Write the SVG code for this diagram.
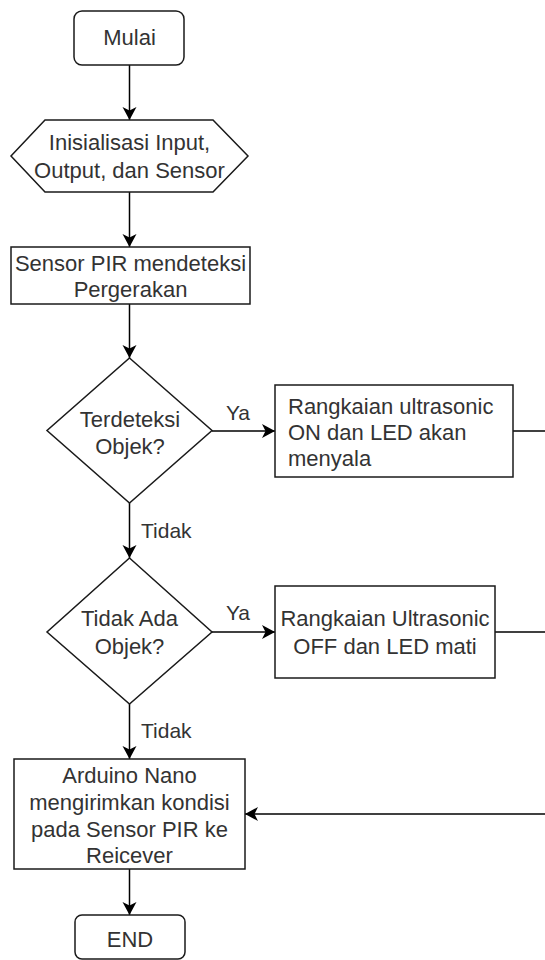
<svg xmlns="http://www.w3.org/2000/svg" width="545" height="960" viewBox="0 0 545 960">
<style>
.shape{fill:#ffffff;stroke:#1a1a1a;stroke-width:1.5}
.t{font-family:"Liberation Sans",Arial,sans-serif;font-size:22px;fill:#333333}
.c{text-anchor:middle}
.lbl{font-family:"Liberation Sans",Arial,sans-serif;font-size:21px;fill:#333333}
.edge{fill:none;stroke:#000000;stroke-width:1.5}
</style>
<defs>
<marker id="arr" markerUnits="userSpaceOnUse" markerWidth="16" markerHeight="16" viewBox="-14 -8 16 16" refX="0" refY="0" orient="auto">
<path d="M0,0 L-13,-7 L-9.5,0 L-13,7 Z" fill="#000000"/>
</marker>
</defs>
<rect width="545" height="960" fill="#ffffff"/>
<g id="connectors">
<line class="edge" x1="129.5" y1="65" x2="129.5" y2="120" marker-end="url(#arr)"/>
<line class="edge" x1="129.5" y1="192" x2="129.5" y2="247" marker-end="url(#arr)"/>
<line class="edge" x1="129.5" y1="304" x2="129.5" y2="358" marker-end="url(#arr)"/>
<line class="edge" x1="212" y1="431" x2="275" y2="431" marker-end="url(#arr)"/>
<line class="edge" x1="513" y1="431" x2="545" y2="431"/>
<line class="edge" x1="129.5" y1="503" x2="129.5" y2="558" marker-end="url(#arr)"/>
<line class="edge" x1="212" y1="632" x2="275" y2="632" marker-end="url(#arr)"/>
<line class="edge" x1="495" y1="632" x2="545" y2="632"/>
<line class="edge" x1="129.5" y1="704" x2="129.5" y2="759" marker-end="url(#arr)"/>
<line class="edge" x1="545" y1="814" x2="245" y2="814" marker-end="url(#arr)"/>
<line class="edge" x1="129.5" y1="869" x2="129.5" y2="915" marker-end="url(#arr)"/>
<text class="lbl c" x="238" y="420">Ya</text>
<text class="lbl" x="141" y="538">Tidak</text>
<text class="lbl c" x="238" y="620">Ya</text>
<text class="lbl" x="141" y="738">Tidak</text>
</g>
<g id="mulai">
<rect class="shape" x="74" y="11" width="110" height="54" rx="8"/>
<text class="t c" x="129.5" y="45">Mulai</text>
</g>
<g id="inisialisasi">
<polygon class="shape" points="45,120 213,120 248,156 213,192 45,192 11,156"/>
<text class="t c" x="129.5" y="150">Inisialisasi Input,</text>
<text class="t c" x="129.5" y="178">Output, dan Sensor</text>
</g>
<g id="sensor-pir">
<rect class="shape" x="11" y="247" width="239" height="57"/>
<text class="t c" x="130.5" y="271">Sensor PIR mendeteksi</text>
<text class="t c" x="130.5" y="297">Pergerakan</text>
</g>
<g id="terdeteksi">
<polygon class="shape" points="129.5,358 212,430.5 129.5,503 47,430.5"/>
<text class="t c" x="130" y="427">Terdeteksi</text>
<text class="t c" x="130" y="454">Objek?</text>
</g>
<g id="ultrasonic-on">
<rect class="shape" x="275" y="385" width="238" height="92"/>
<text class="t" x="288" y="414">Rangkaian ultrasonic</text>
<text class="t" x="288" y="440">ON dan LED akan</text>
<text class="t" x="288" y="466">menyala</text>
</g>
<g id="tidak-ada">
<polygon class="shape" points="129.5,558 212,632 129.5,704 47,632"/>
<text class="t c" x="129.5" y="626">Tidak Ada</text>
<text class="t c" x="129.5" y="654">Objek?</text>
</g>
<g id="ultrasonic-off">
<rect class="shape" x="275" y="586" width="220" height="92"/>
<text class="t c" x="385" y="626">Rangkaian Ultrasonic</text>
<text class="t c" x="385" y="654">OFF dan LED mati</text>
</g>
<g id="arduino">
<rect class="shape" x="14" y="759" width="231" height="110"/>
<text class="t c" x="129.5" y="783">Arduino Nano</text>
<text class="t c" x="129.5" y="810">mengirimkan kondisi</text>
<text class="t c" x="129.5" y="837">pada Sensor PIR ke</text>
<text class="t c" x="129.5" y="863">Reicever</text>
</g>
<g id="end">
<rect class="shape" x="75" y="915" width="110" height="44" rx="7"/>
<text class="t c" x="130" y="947">END</text>
</g>
</svg>
